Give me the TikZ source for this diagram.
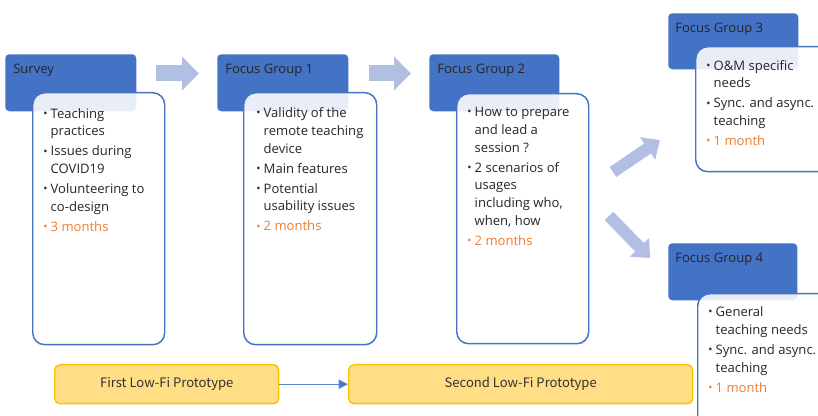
\documentclass[tikz,border=0pt]{standalone}
\usepackage{fontspec}
\usepackage{graphicx}
\setmainfont{Open Sans}
\newfontfamily\yfont{Noto Sans CJK SC}
\usetikzlibrary{arrows.meta}
\definecolor{hdrblue}{HTML}{4472C4}
\definecolor{arrblue}{HTML}{B0BFE2}
\definecolor{orng}{HTML}{ED7D31}
\definecolor{yfill}{HTML}{FFDE85}
\definecolor{yline}{HTML}{FFC000}
\definecolor{lnblue}{HTML}{5B82CC}
\newcommand{\px}{0.75pt}
\newcommand{\bu}{\makebox[5.2pt][l]{\hspace*{-0.3pt}\raisebox{0.12ex}{\scalebox{0.85}{\textbullet}}}}
\newcommand{\ind}{\hspace*{5.2pt}}
\newcommand{\gap}{\\[1.7pt]}
\tikzset{
  hdr/.style={fill=hdrblue, rounded corners=3pt, anchor=north west, inner sep=0pt},
  bodybox/.style={fill=white, fill opacity=0.88, draw=hdrblue, line width=1.1pt, rounded corners=9pt, anchor=north west, inner sep=0pt},
  htxt/.style={anchor=base west, inner sep=0pt, font=\fontsize{9.8pt}{13.3pt}\selectfont, text=black!85},
  btxt/.style={anchor=north west, inner sep=0pt, align=left, font=\fontsize{9.8pt}{13.3pt}\selectfont, text=black!85},
  ybox/.style={fill=yfill, draw=yline, line width=1.1pt, rounded corners=4pt, anchor=north west, inner sep=0pt, font=\yfont\fontsize{9.8pt}{12pt}\selectfont, text=black!80},
  bigarr/.style={draw=arrblue, line width=12pt, -{Triangle[width=24.75pt,length=12.75pt]}},
  diagarr/.style={draw=arrblue, line width=9pt, -{Triangle[width=19.5pt,length=11.25pt]}},
  conn/.style={draw=lnblue, line width=0.9pt, -{Triangle[width=7pt,length=7pt,fill=hdrblue]}},
}
\begin{document}
\begin{tikzpicture}[x=0.75pt, y=-0.75pt]
\useasboundingbox (0,0) rectangle (818,416);
\clip (0,0) rectangle (818,416);
% Survey
\node[hdr, minimum width={131*\px}, minimum height={57*\px}] (h0) at (5,54) {};
\node[htxt] (t0) at (13,74) {Survey};
\node[bodybox, minimum width={132*\px}, minimum height={252*\px}] (b0) at (32,92) {};
\node[btxt] (c0) at (43.5,108) {\bu Teaching\\\ind practices\gap\bu Issues during\\\ind COVID19\gap\bu Volunteering to\\\ind co-design\gap{\color{orng}\bu 3 months}};
% Focus Group 1
\node[hdr, minimum width={131*\px}, minimum height={57*\px}] (h1) at (217,54) {};
\node[htxt] (t1) at (225,74) {Focus Group 1};
\node[bodybox, minimum width={133*\px}, minimum height={252*\px}] (b1) at (243,92) {};
\node[btxt] (c1) at (256.5,107.5) {\bu Validity of the\\\ind remote teaching\\\ind device\gap\bu Main features\gap\bu Potential\\\ind usability issues\gap{\color{orng}\bu 2 months}};
% Focus Group 2
\node[hdr, minimum width={130*\px}, minimum height={57*\px}] (h2) at (429,54) {};
\node[htxt] (t2) at (437,74) {Focus Group 2};
\node[bodybox, minimum width={132*\px}, minimum height={250*\px}] (b2) at (456,93) {};
\node[btxt] (c2) at (467.5,107) {\bu How to prepare\\\ind and lead a\\\ind session ?\gap\bu 2 scenarios of\\\ind usages\\\ind including who,\\\ind when, how\gap{\color{orng}\bu 2 months}};
% Focus Group 3
\node[hdr, minimum width={130*\px}, minimum height={56*\px}] (h3) at (668,13) {};
\node[htxt] (t3) at (675,32.5) {Focus Group 3};
\node[bodybox, minimum width={150*\px}, minimum height={125*\px}] (b3) at (695,46) {};
\node[btxt] (c3) at (706.5,60) {\bu O\&M specific\\\ind needs\gap\bu Sync. and async.\\\ind teaching\gap{\color{orng}\bu 1 month}};
% Focus Group 4
\node[hdr, minimum width={129*\px}, minimum height={57*\px}] (h4) at (668,243) {};
\node[htxt] (t4) at (675,263) {Focus Group 4};
\node[bodybox, minimum width={150*\px}, minimum height={140*\px}] (b4) at (697,293) {};
\node[btxt] (c4) at (708.5,306.5) {\bu General\\\ind teaching needs\gap\bu Sync. and async.\\\ind teaching\gap{\color{orng}\bu 1 month}};
% big arrows
\coordinate (a1s) at (156,73.5); \coordinate (a1e) at (199,73.5);
\coordinate (a2s) at (369,73.5); \coordinate (a2e) at (411,73.5);
\coordinate (a3s) at (613,172); \coordinate (a3e) at (660,140);
\coordinate (a4s) at (609,216); \coordinate (a4e) at (650,258);
\draw[bigarr] (a1s) -- (a1e);
\draw[bigarr] (a2s) -- (a2e);
\draw[diagarr] (a3s) -- (a3e);
\draw[diagarr] (a4s) -- (a4e);
% prototypes
\node[ybox, minimum width={224*\px}, minimum height={39*\px}] (y1) at (54,364) {First Low-Fi Prototype};
\node[ybox, minimum width={344*\px}, minimum height={39*\px}] (y2) at (348,364) {Second Low-Fi Prototype};
\draw[conn] (y1.east) -- (y2.west);
\end{tikzpicture}
\end{document}
